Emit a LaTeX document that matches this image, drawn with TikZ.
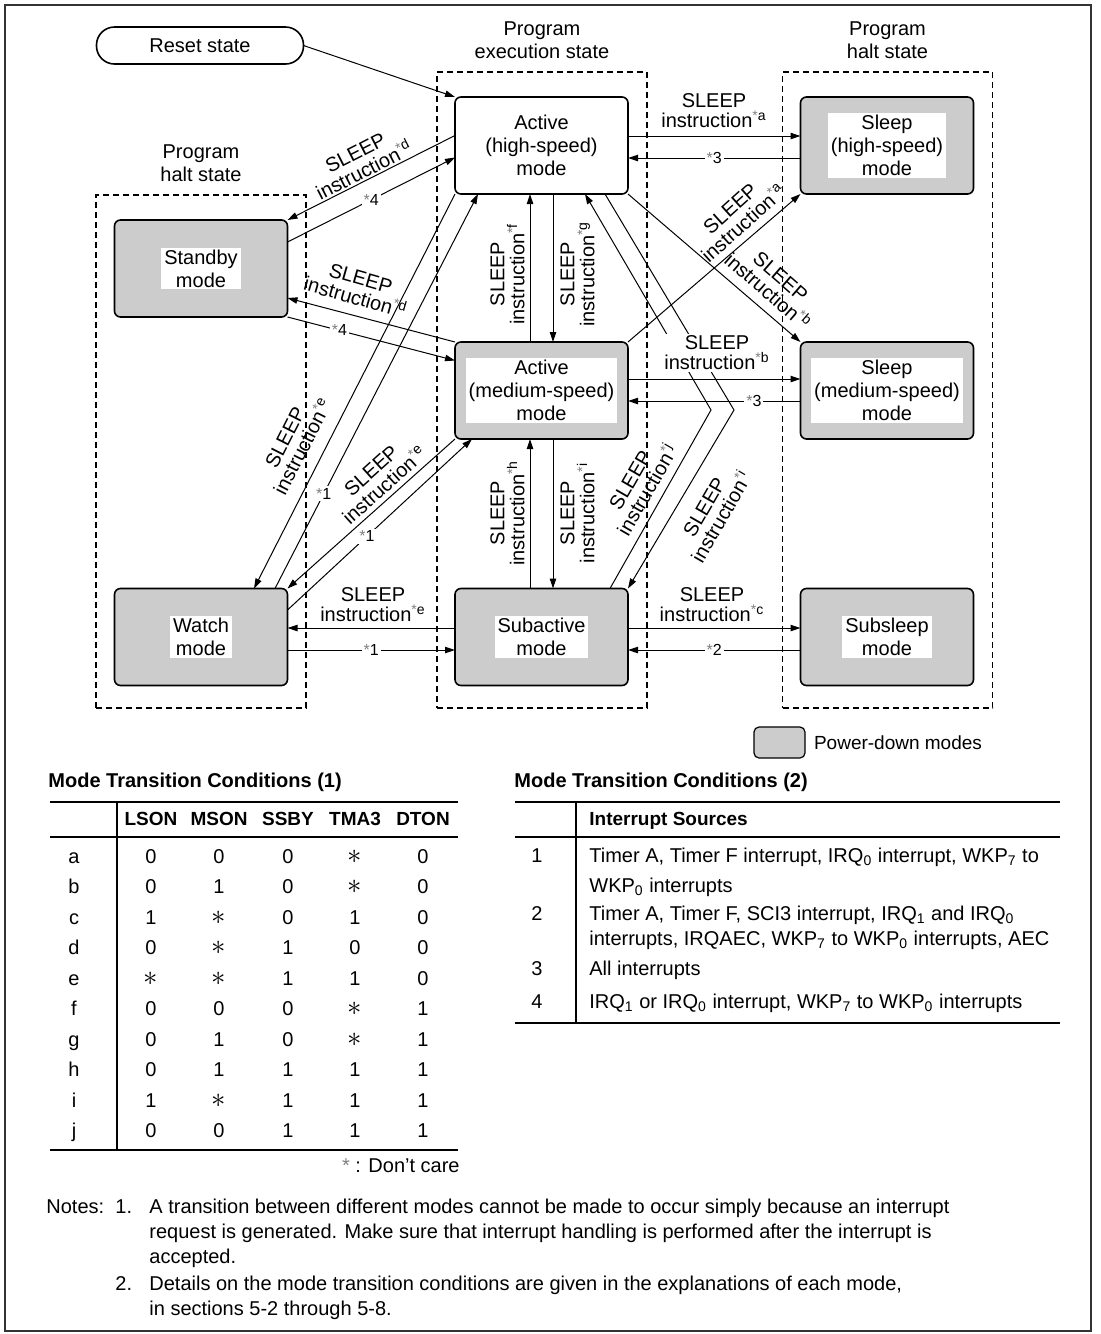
\documentclass[tikz,border=0pt]{standalone}
\usepackage{fontspec}
\setmainfont{Liberation Sans}
\usetikzlibrary{arrows.meta,positioning}

\definecolor{pdgray}{gray}{0.80}
\newcommand\gst{\textcolor{black!50}{*}}
\newcommand\sinstr[1]{SLEEP\\instruction\textsuperscript{\gst#1}}
\newcommand\dcare{{\Large$\ast$}}
\newcommand\sub[1]{\textsubscript{#1}}

\begin{document}
\begin{tikzpicture}[
    x=0.5pt, y=-0.5pt,
    >={Triangle[length=5pt,width=3.2pt]},
    modebox/.style={draw, line width=0.8pt, rounded corners=3pt, minimum width=86.5pt, minimum height=48.5pt, outer sep=0pt, fill=white, align=center, font=\fontsize{10}{11.5}\selectfont},
    pdbox/.style={modebox, fill=pdgray},
    modetext/.style={fill=white, align=center, inner xsep=1.5pt, inner ysep=1pt, font=\fontsize{10}{11.5}\selectfont},
    grp/.style={draw, dash pattern=on 3pt off 2pt, line width=0.6pt, minimum width=105pt, outer sep=0pt},
    grplabel/.style={align=center, font=\fontsize{10}{11.5}\selectfont},
    link/.style={->, line width=0.5pt},
    slp/.style={align=center, inner sep=1pt, font=\fontsize{10}{10}\selectfont},
    cond/.style={fill=white, inner sep=1pt, font=\fontsize{8}{9}\selectfont},
    cell/.style={anchor=mid, inner sep=0pt},
    txt/.style={anchor=mid west, inner sep=0pt},
    hdr/.style={font=\fontsize{9.5}{11}\selectfont\bfseries},
    rule/.style={line width=0.75pt}
]
\useasboundingbox (0,0) rectangle (1100,1334);
\draw[line width=0.6pt, black!80] (5,5) rectangle (1091,1331);

% state groups
\node[grp, minimum height=256.5pt] (grphaltl) at (201,451.5) {};
\node[grp, minimum height=318pt] (grpexec) at (542,390) {};
\node[grp, minimum height=318pt] (grphaltr) at (887.5,390) {};
\node[grplabel, above=3pt of grphaltl] (lblhaltl) {Program\\halt state};
\node[grplabel, above=3pt of grpexec] (lblexec) {Program\\execution state};
\node[grplabel, above=3pt of grphaltr] (lblhaltr) {Program\\halt state};

% modes
\node[draw, line width=0.8pt, rounded corners=9pt, minimum width=103.5pt, minimum height=18.5pt, outer sep=0pt] (reset) at (200,45.5) {Reset state};
\node[modebox] (acths) at (541.5,145.5) {Active\\(high-speed)\\mode};
\node[pdbox] (actms) at (541.5,390.5) {};
\node[modetext] (actms-t) at (actms) {Active\\(medium-speed)\\mode};
\node[pdbox] (subact) at (541.5,637) {};
\node[modetext] (subact-t) at (subact) {Subactive\\mode};
\node[pdbox] (slphs) at (887,145.5) {};
\node[modetext] (slphs-t) at (slphs) {Sleep\\(high-speed)\\mode};
\node[pdbox] (slpms) at (887,390.5) {};
\node[modetext] (slpms-t) at (slpms) {Sleep\\(medium-speed)\\mode};
\node[pdbox] (subslp) at (887,637) {};
\node[modetext] (subslp-t) at (subslp) {Subsleep\\mode};
\node[pdbox] (stby) at (201,268.5) {};
\node[modetext] (stby-t) at (stby) {Standby\\mode};
\node[pdbox] (watch) at (201,637) {};
\node[modetext] (watch-t) at (watch) {Watch\\mode};

\coordinate (bendi) at (734,410);
\coordinate (bendj) at (711,410);

% transitions
\draw[link] (reset.east) -- (acths.north west);
\draw[link] ([yshift=4.75pt]acths.east) -- ([yshift=4.75pt]slphs.west);
\draw[link] ([yshift=-6.25pt]slphs.west) -- node[cond] (c3a) {\gst3} ([yshift=-6.25pt]acths.east);
\draw[link] ([yshift=5pt]acths.west) -- (stby.north east);
\draw[link] ([yshift=13.25pt]stby.east) -- node[cond] (c4a) {\gst4} ([yshift=-6pt]acths.west);
\draw[link] (actms.north west) -- ([yshift=-14.75pt]stby.east);
\draw[link] (stby.south east) -- node[cond, pos=0.31] (c4b) {\gst4} ([yshift=15pt]actms.west);
\draw[link] (acths.south west) -- ([xshift=26.5pt]watch.north);
\draw[link] ([xshift=37pt]watch.north) -- node[cond, pos=0.24] (c1a) {\gst1} ([xshift=11.5pt]acths.south west);
\draw[link] (actms.south west) -- (watch.north east);
\draw[link] ([yshift=13.5pt]watch.east) -- node[cond, pos=0.43] (c1b) {\gst1} ([xshift=8.5pt]actms.south west);
\draw[link] ([yshift=4.5pt]subact.west) -- ([yshift=4.5pt]watch.east);
\draw[link] ([yshift=-6.5pt]watch.east) -- node[cond] (c1c) {\gst1} ([yshift=-6.5pt]subact.west);
\draw[link] ([yshift=4.5pt]subact.east) -- ([yshift=4.5pt]subslp.west);
\draw[link] ([yshift=-6.5pt]subslp.west) -- node[cond] (c2a) {\gst2} ([yshift=-6.5pt]subact.east);
\draw[link] ([yshift=5.75pt]actms.east) -- ([yshift=5.75pt]slpms.west);
\draw[link] ([yshift=-5.25pt]slpms.west) -- node[cond, pos=0.27] (c3b) {\gst3} ([yshift=-5.25pt]actms.east);
\draw[link] ([xshift=-5.75pt]actms.north) -- ([xshift=-5.75pt]acths.south);
\draw[link] ([xshift=5.75pt]acths.south) -- ([xshift=5.75pt]actms.north);
\draw[link] ([xshift=-5.75pt]subact.north) -- ([xshift=-5.75pt]actms.south);
\draw[link] ([xshift=5.75pt]actms.south) -- ([xshift=5.75pt]subact.north);
\draw[link] (acths.south east) -- (slpms.north west);
\draw[link] (actms.north east) -- (slphs.south west);
\draw[link] ([xshift=31.75pt]acths.south) -- (bendi) -- (subact.north east);
\draw[link] ([xshift=-9pt]subact.north east) -- (bendj) -- ([xshift=21.75pt]acths.south);

% SLEEP labels
\node[slp] (sla) at (714,111) {\sinstr{a}};
\node[slp, fill=white] (slb) at (717,353) {\sinstr{b}};
\node[slp] (slc) at (712,605) {\sinstr{c}};
\node[slp] (sle) at (373,605) {\sinstr{e}};
\node[slp, rotate=27] (sld1) at (360,162) {\sinstr{d}};
\node[slp, rotate=-16] (sld2) at (358,288) {\sinstr{d}};
\node[slp, rotate=63] (sle1) at (294,442) {\sinstr{e}};
\node[slp, rotate=42] (sle2) at (378,478) {\sinstr{e}};
\node[slp, rotate=90] (slf) at (507.5,274) {\sinstr{f}};
\node[slp, rotate=90] (slg) at (577.5,274) {\sinstr{g}};
\node[slp, rotate=90] (slh) at (507.5,513) {\sinstr{h}};
\node[slp, rotate=90] (sli1) at (577.5,513) {\sinstr{i}};
\node[slp, rotate=60] (slj) at (639,485) {\sinstr{j}};
\node[slp, rotate=60] (sli2) at (713,512) {\sinstr{i}};
\node[slp, rotate=42] (sla2) at (737,216) {\sinstr{a}};
\node[slp, rotate=-41] (slb2) at (774,284) {\sinstr{b}};

% legend
\node[pdbox, minimum width=25.5pt, minimum height=15.5pt, rounded corners=2.5pt, line width=0.6pt] (legbox) at (779.5,742.5) {};
\node[right=1pt of legbox, font=\fontsize{9.5}{11}\selectfont] (legtxt) {Power-down modes};

% conditions (1)
\node[txt, font=\bfseries] (t1title) at (48,782) {Mode Transition Conditions (1)};
\draw[rule] (50,802) -- (458,802);
\draw[rule] (50,837) -- (458,837);
\draw[rule] (50,1150) -- (458,1150);
\draw[line width=0.6pt] (117,802) -- (117,1150);
\foreach \hd/\hx in {LSON/151, MSON/219, SSBY/288, TMA3/355, DTON/423}
  \node[cell, hdr] (h-\hd) at (\hx,820) {\hd};
\foreach \rl/\va/\vb/\vc/\vd/\ve [count=\k from 0] in {a/0/0/0/\dcare/0, b/0/1/0/\dcare/0, c/1/\dcare/0/1/0, d/0/\dcare/1/0/0, e/\dcare/\dcare/1/1/0, f/0/0/0/\dcare/1, g/0/1/0/\dcare/1, h/0/1/1/1/1, i/1/\dcare/1/1/1, j/0/0/1/1/1}{
  \node[cell] (row-\rl) at (74,858+30.5*\k) {\rl};
  \node[cell] (lson-\rl) at (151,858+30.5*\k) {\va};
  \node[cell] (mson-\rl) at (219,858+30.5*\k) {\vb};
  \node[cell] (ssby-\rl) at (288,858+30.5*\k) {\vc};
  \node[cell] (tma-\rl) at (355,858+30.5*\k) {\vd};
  \node[cell] (dton-\rl) at (423,858+30.5*\k) {\ve};
}
\node[anchor=mid east, inner sep=0pt] (dontcare) at (460,1167) {\gst\ : Don’t care};

% conditions (2)
\node[txt, font=\bfseries] (t2title) at (514,782) {Mode Transition Conditions (2)};
\draw[rule] (515,802) -- (1060,802);
\draw[rule] (515,837) -- (1060,837);
\draw[rule] (515,1023) -- (1060,1023);
\draw[line width=0.6pt] (576,802) -- (576,1023);
\node[txt, hdr] (t2head) at (589,820) {Interrupt Sources};
\node[cell] (src1) at (537,857) {1};
\node[cell] (src2) at (537,915) {2};
\node[cell] (src3) at (537,970) {3};
\node[cell] (src4) at (537,1003) {4};
\node[txt] (src1a) at (589,857) {Timer A, Timer F interrupt, IRQ\sub{0} interrupt, WKP\sub{7} to};
\node[txt] (src1b) at (589,887) {WKP\sub{0} interrupts};
\node[txt] (src2a) at (589,915) {Timer A, Timer F, SCI3 interrupt, IRQ\sub{1} and IRQ\sub{0}};
\node[txt] (src2b) at (589,940) {interrupts, IRQAEC, WKP\sub{7} to WKP\sub{0} interrupts, AEC};
\node[txt] (src3a) at (589,970) {All interrupts};
\node[txt] (src4a) at (589,1003) {IRQ\sub{1} or IRQ\sub{0} interrupt, WKP\sub{7} to WKP\sub{0} interrupts};

% notes
\node[txt] (notes) at (46,1208) {Notes:};
\node[txt] (n1) at (115,1208) {1.};
\node[txt] (n1a) at (149,1208) {A transition between different modes cannot be made to occur simply because an interrupt};
\node[txt] (n1b) at (149,1233) {request is generated. Make sure that interrupt handling is performed after the interrupt is};
\node[txt] (n1c) at (149,1258) {accepted.};
\node[txt] (n2) at (115,1285) {2.};
\node[txt] (n2a) at (149,1285) {Details on the mode transition conditions are given in the explanations of each mode,};
\node[txt] (n2b) at (149,1310) {in sections 5-2 through 5-8.};
\end{tikzpicture}
\end{document}
